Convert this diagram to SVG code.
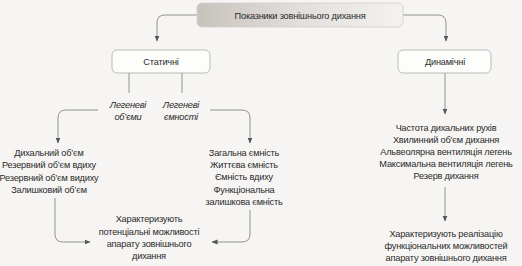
<svg xmlns="http://www.w3.org/2000/svg" width="522" height="266" viewBox="0 0 522 266">
<style>
text{font-family:"Liberation Sans",Arial,sans-serif;font-size:9.2px;letter-spacing:-0.2px;fill:#2a2a2a;text-anchor:middle}
.it{font-style:italic}
.box{fill:#fdfdfc;stroke:#a9a9a9;stroke-width:0.8}
.conn path{fill:none;stroke:#7a7a7a;stroke-width:0.8;marker-end:url(#ah)}
</style>
<defs>
<linearGradient id="tg" x1="0" y1="0" x2="1" y2="0">
<stop offset="0" stop-color="#c7c2bc"/>
<stop offset="0.5" stop-color="#e2dfdb"/>
<stop offset="1" stop-color="#f3f2f0"/>
</linearGradient>
<marker id="ah" viewBox="0 0 6 6" refX="5.5" refY="3" markerWidth="6" markerHeight="6" orient="auto" markerUnits="userSpaceOnUse">
<path d="M0,0.5 L6,3 L0,5.5 Z" fill="#555"/>
</marker>
</defs>
<rect width="522" height="266" fill="#f6f5f3"/>
<g class="conn">
<path d="M197,15 H165 Q157,15 157,23 V41"/>
<path d="M403,15 H438 Q446,15 446,23 V41"/>
<path d="M129,73 V93" style="marker-end:none"/>
<path d="M182,73 V93" style="marker-end:none"/>
<path d="M98,110 H66 Q58,110 58,118 V143"/>
<path d="M210,110 H242 Q250,110 250,118 V143"/>
<path d="M55,198 V234 Q55,242 63,242 H90"/>
<path d="M250,210 V234 Q250,242 242,242 H212"/>
<path d="M445,73 V114"/>
<path d="M445,187 V221"/>
</g>
<g id="top">
<rect x="197" y="3" width="206" height="24" rx="5" fill="url(#tg)" stroke="#d2cfcb" stroke-width="0.8"/>
<text x="300" y="19">Показники зовнішнього дихання</text>
</g>
<g id="static">
<rect class="box" x="112" y="50" width="98" height="23" rx="5"/>
<text x="161" y="65">Статичні</text>
</g>
<g id="dynamic">
<rect class="box" x="398" y="50" width="93" height="23" rx="5"/>
<text x="445" y="65">Динамічні</text>
</g>
<g id="volumes">
<text class="it" x="128" y="108">Легеневі</text>
<text class="it" x="128" y="120">об’єми</text>
</g>
<g id="capacities">
<text class="it" x="181" y="108">Легеневі</text>
<text class="it" x="181" y="120">ємності</text>
</g>
<g id="volumes-list">
<text x="49" y="156">Дихальний об’єм</text>
<text x="49" y="168">Резервний об’єм вдиху</text>
<text x="49" y="181">Резервний об’єм видиху</text>
<text x="49" y="193">Залишковий об’єм</text>
</g>
<g id="capacities-list">
<text x="244" y="156">Загальна ємність</text>
<text x="244" y="168">Життєва ємність</text>
<text x="244" y="180">Ємність вдиху</text>
<text x="244" y="193">Функціональна</text>
<text x="244" y="205">залишкова ємність</text>
</g>
<g id="static-result">
<text x="149" y="222">Характеризують</text>
<text x="149" y="235">потенціальні можливості</text>
<text x="149" y="247">апарату зовнішнього</text>
<text x="149" y="259">дихання</text>
</g>
<g id="dynamic-list">
<text x="446" y="131">Частота дихальних рухів</text>
<text x="446" y="143">Хвилинний об’єм дихання</text>
<text x="446" y="155">Альвеолярна вентиляція легень</text>
<text x="446" y="167">Максимальна вентиляція легень</text>
<text x="446" y="179">Резерв дихання</text>
</g>
<g id="dynamic-result">
<text x="446" y="237">Характеризують реалізацію</text>
<text x="446" y="249">функціональних можливостей</text>
<text x="446" y="261">апарату зовнішнього дихання</text>
</g>
</svg>
